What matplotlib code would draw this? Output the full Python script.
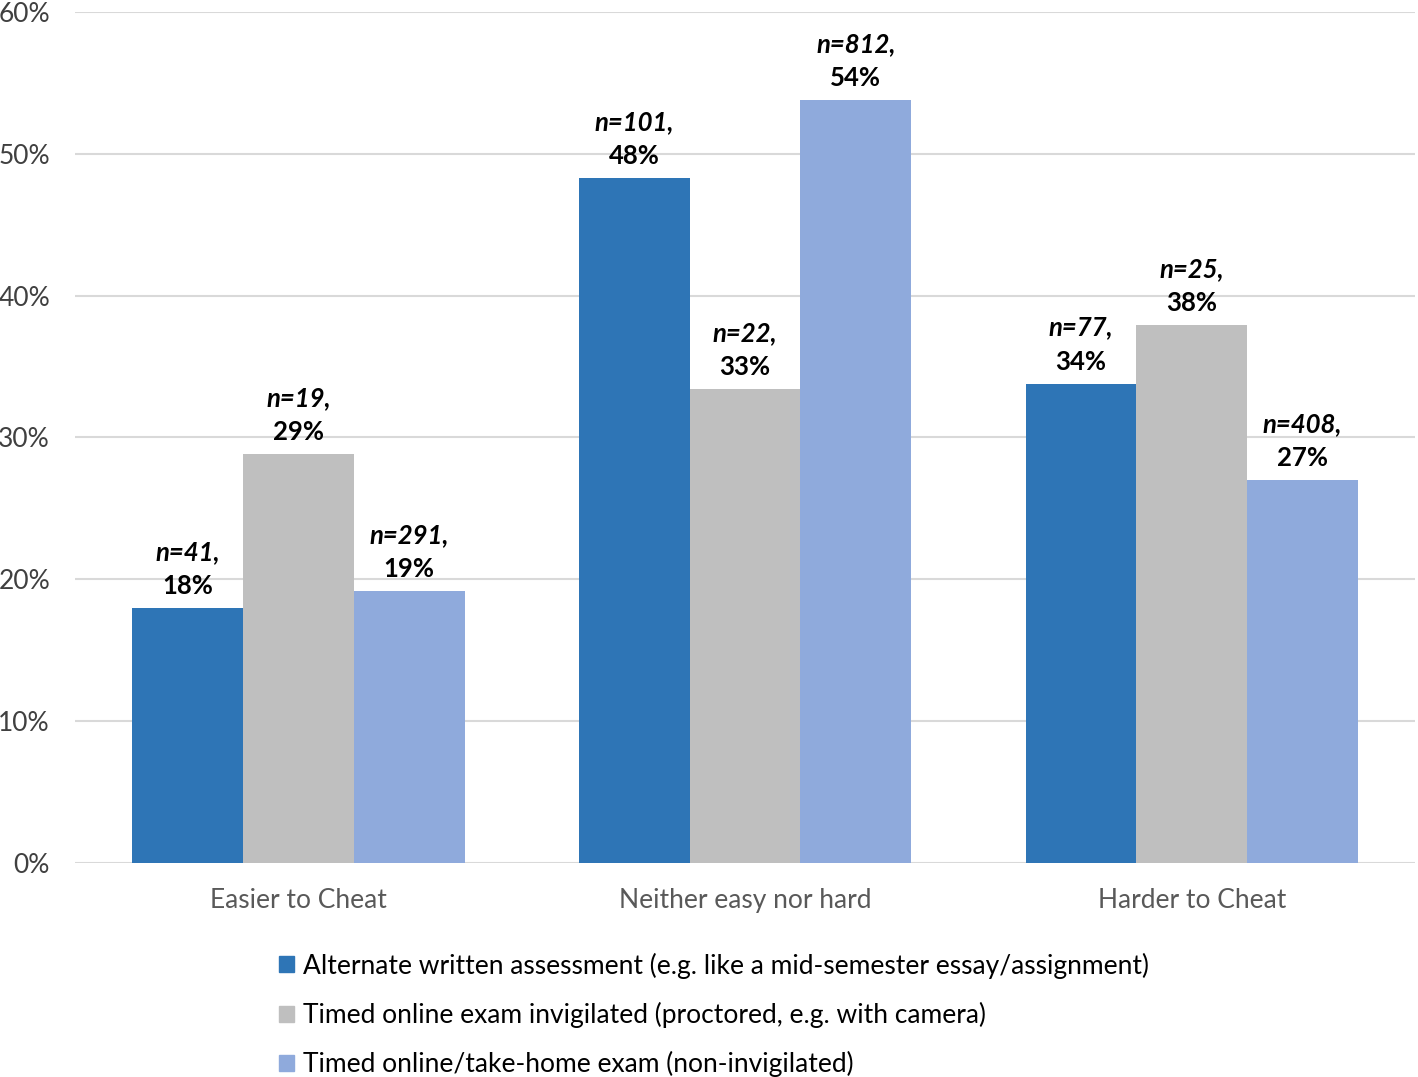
import matplotlib.pyplot as plt
import numpy as np
from matplotlib.patches import Patch

# datos
categories = ["Easier to Cheat", "Neither easy nor hard", "Harder to Cheat"]
series_names = [
    "Alternate written assessment (e.g. like a mid-semester essay/assignment)",
    "Timed online exam invigilated (proctored, e.g. with camera)",
    "Timed online/take-home exam (non-invigilated)",
]
written_pct = [18.0, 48.3, 33.8]
proctored_pct = [28.8, 33.4, 37.9]
takehome_pct = [19.2, 53.8, 27.0]
written_n = [41, 101, 77]
proctored_n = [19, 22, 25]
takehome_n = [291, 812, 408]
pct_labels = [["18%", "48%", "34%"], ["29%", "33%", "38%"], ["19%", "54%", "27%"]]

COLORS = ["#2E75B6", "#BFBFBF", "#8FAADC"]
FONT = "Lato"
PX = 0.72  # puntos por pixel a dpi 100

plt.rcParams["font.family"] = [FONT, "DejaVu Sans"]

fig = plt.figure(figsize=(14.18, 10.77), dpi=100)
ax = fig.add_axes([0.0529, 0.1987, 0.9451, 0.7902])

x = np.arange(len(categories))
width = 0.248
values = [written_pct, proctored_pct, takehome_pct]
counts = [written_n, proctored_n, takehome_n]

for i, (vals, ns) in enumerate(zip(values, counts)):
    pos = x + (i - 1) * width
    ax.bar(pos, vals, width=width, color=COLORS[i], zorder=3)
    for xp, v, n, lab in zip(pos, vals, ns, pct_labels[i]):
        ax.annotate(lab, (xp, v), xytext=(0, 10 * PX), textcoords="offset points",
                    ha="center", va="bottom", fontsize=18.5, fontweight="bold",
                    color="#000000")
        ax.annotate(f"n={n},", (xp, v), xytext=(0, 44 * PX), textcoords="offset points",
                    ha="center", va="bottom", fontsize=18.5, fontweight="bold",
                    fontstyle="italic", color="#000000")

ax.set_xlim(-0.5, 2.5)
ax.set_ylim(0, 60)
ax.set_yticks(np.arange(0, 61, 10))
ax.set_yticklabels([f"{t}%" for t in range(0, 61, 10)])
ax.set_xticks(x)
ax.set_xticklabels(categories)
ax.yaxis.grid(True, color="#D9D9D9", linewidth=1.5, zorder=0)
ax.set_axisbelow(True)
for s in ax.spines.values():
    s.set_visible(False)
ax.tick_params(axis="y", length=0, pad=18, labelsize=19, labelcolor="#404040")
ax.tick_params(axis="x", length=0, pad=18, labelsize=19, labelcolor="#595959")

handles = [Patch(color=c) for c in COLORS]
fig.legend(handles, series_names, loc="upper left", bbox_to_anchor=(0.1968, 0.1156),
           frameon=False, fontsize=19, handlelength=0.55, handleheight=0.55,
           handletextpad=0.35, labelspacing=0.88, borderpad=0, borderaxespad=0)

fig.savefig("out.png", dpi=100)
